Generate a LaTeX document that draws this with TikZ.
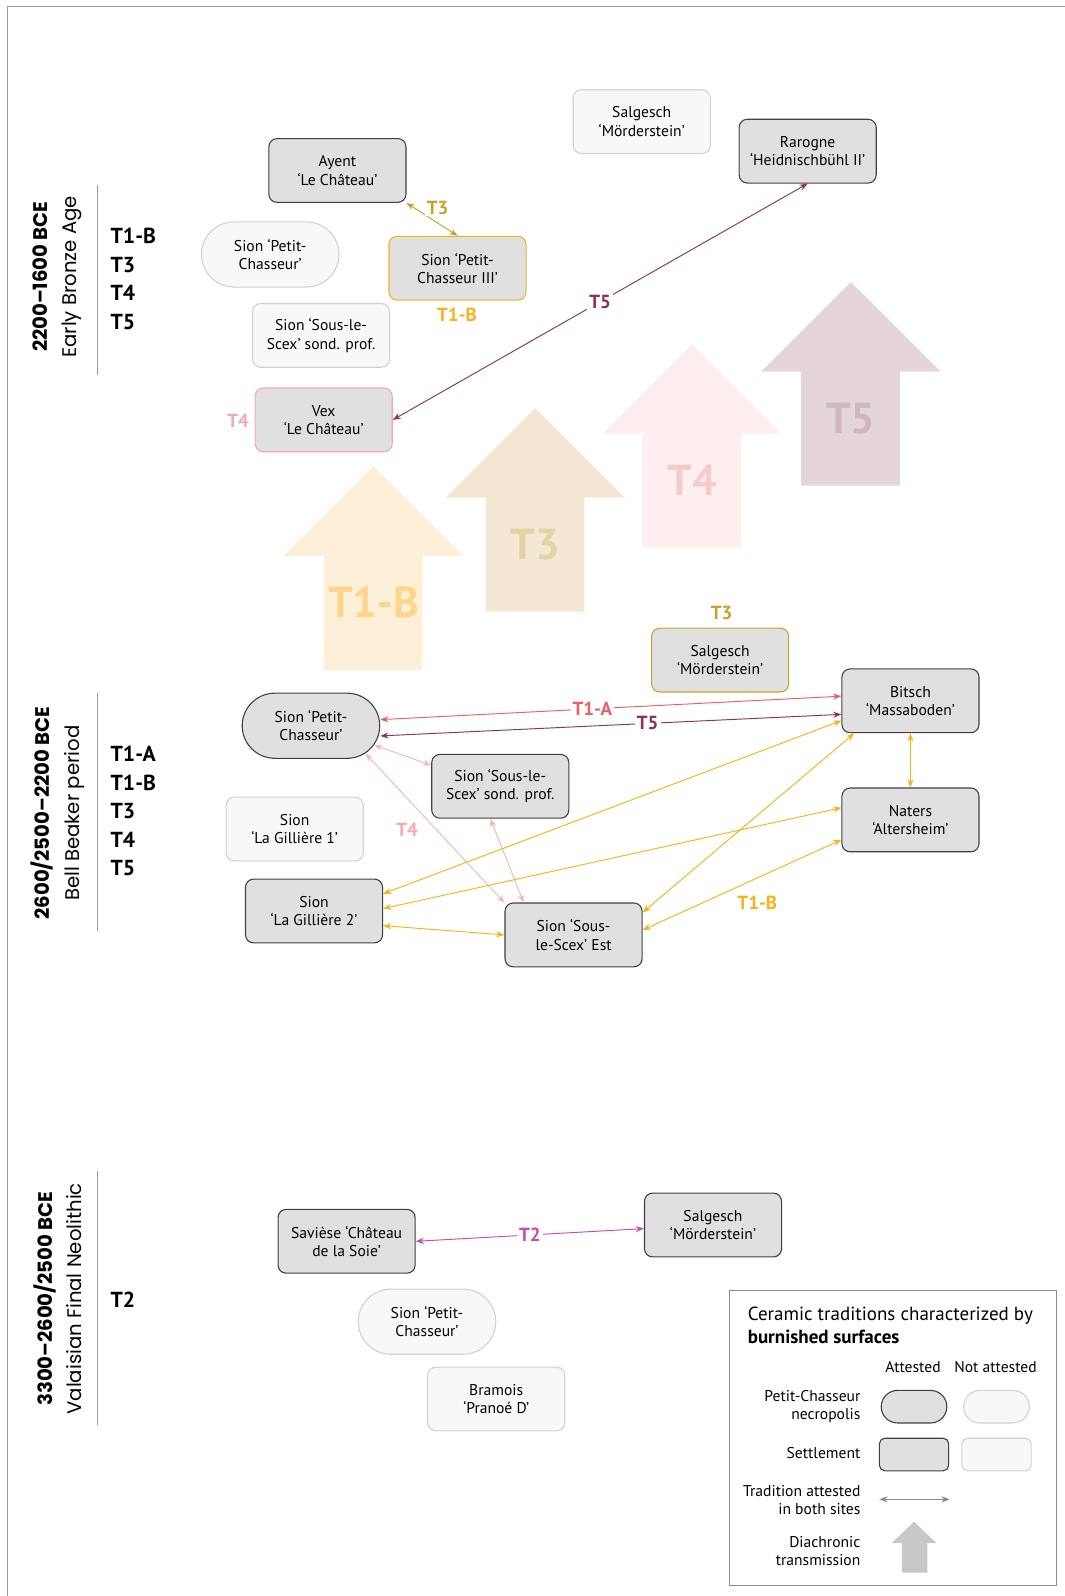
\documentclass[tikz,border=0pt]{standalone}
\usepackage{fontspec}
\setmainfont{PT Sans}
\newfontfamily\periodfont{Poppins}
\usepackage{tikz}
\usetikzlibrary{shapes.misc, arrows.meta}

\definecolor{sitegrey}{HTML}{E0E0E0}
\definecolor{edgegrey}{HTML}{404040}
\definecolor{nogrey}{HTML}{F8F8F8}
\definecolor{noedge}{HTML}{D2D2D2}
\definecolor{framegrey}{HTML}{9A9A9A}
\definecolor{t1acol}{HTML}{EC5F67}
\definecolor{t1bcol}{HTML}{F8B31B}
\definecolor{t2col}{HTML}{C94DA8}
\definecolor{t3col}{HTML}{C9A22C}
\definecolor{t4col}{HTML}{F4AAB0}
\definecolor{t4line}{HTML}{F5B7B9}
\definecolor{t5col}{HTML}{8B3459}
\definecolor{bigt1b}{HTML}{FEEFD8}
\definecolor{bigt1btext}{HTML}{FDD68C}
\definecolor{bigt3}{HTML}{F2E8D3}
\definecolor{bigt3text}{HTML}{E5D3A6}
\definecolor{bigt4}{HTML}{FDEEEF}
\definecolor{bigt4text}{HTML}{F7CBCD}
\definecolor{bigt5}{HTML}{E4D4DB}
\definecolor{bigt5text}{HTML}{D0B5C2}
\definecolor{leggrey}{HTML}{8A8A8A}
\definecolor{legarrow}{HTML}{C8C8C8}

\begin{document}
\begin{tikzpicture}[x=0.75pt, y=-0.75pt, every node/.style={font=\fontsize{11.5}{13.5}\selectfont}]
% Styles
\tikzstyle{site} = [rectangle, rounded corners=6pt, minimum width=101pt, minimum height=47pt, text centered, align=center, draw=edgegrey, fill=sitegrey, line width=0.8pt]
\tikzstyle{siteno} = [site, draw=noedge, fill=nogrey]
\tikzstyle{necro} = [rounded rectangle, minimum width=108pt, minimum height=48pt, text centered, align=center, draw=edgegrey, fill=sitegrey, line width=0.8pt]
\tikzstyle{necrono} = [necro, draw=noedge, fill=nogrey]
\tikzstyle{link} = [line width=0.7pt, <->, >={Stealth[length=6pt, width=4.5pt]}]
\tikzstyle{tlabel} = [font=\bfseries\fontsize{14}{16}\selectfont, fill=white, inner sep=1.5pt]
\tikzstyle{period} = [rotate=90, align=center, font=\periodfont\fontsize{14.5}{21.75}\selectfont]
\tikzstyle{tradlist} = [anchor=west, align=left, font=\bfseries\fontsize{16}{21}\selectfont]

\useasboundingbox (0,0) rectangle (1046,1568);
\draw[framegrey, line width=0.8pt] (1046,6) -- (7,6) -- (7,1568);

% Diachronic transmission arrows
\foreach \x/\y/\fc/\tc/\lab in {367/458/bigt1b/bigt1btext/T1-B, 526/401/bigt3/bigt3text/T3, 680/338/bigt4/bigt4text/T4, 836/277/bigt5/bigt5text/T5} {
  \fill[\fc] (\x,\y) -- ++(88,88) -- ++(-40,0) -- ++(0,112) -- ++(-97,0) -- ++(0,-112) -- ++(-39,0) -- cycle;
  \node[text=\tc, font=\bfseries\fontsize{32}{32}\selectfont] (big\lab) at (\x,\y+134) {\lab};
}

% Periods
\node[period] (ebaname) at (56.5,272) {\textbf{2200–1600 BCE}\\Early Bronze Age};
\node[period] (bbname) at (56.5,799) {\textbf{2600/2500–2200 BCE}\\Bell Beaker period};
\node[period] (neoname) at (56.5,1276) {\textbf{3300–2600/2500 BCE}\\Valaisian Final Neolithic};
\draw[framegrey] (96,182) -- (96,368);
\draw[framegrey] (96,681) -- (96,915);
\draw[framegrey] (96,1150) -- (96,1400);
\node[tradlist] (ebalist) at (104,274) {T1-B\\T3\\T4\\T5};
\node[tradlist] (bblist) at (104,797) {T1-A\\T1-B\\T3\\T4\\T5};
\node[tradlist] (neolist) at (104,1277) {T2};

% Early Bronze Age sites
\node (ayent) [site] at (331.5,167.5) {Ayent\\‘Le Château’};
\node (salgtop) [siteno] at (630.5,119.5) {Salgesch\\‘Mörderstein’};
\node (rarogne) [site] at (793.5,148.5) {Rarogne\\‘Heidnischbühl II’};
\node (pctop) [necrono] at (265.5,250) {Sion ‘Petit-\\Chasseur’};
\node (pcthree) [site, draw=t1bcol] at (449.5,263.5) {Sion ‘Petit-\\Chasseur III’};
\node (sondtop) [siteno] at (315.5,329.5) {Sion ‘Sous-le-\\Scex’ sond. prof.};
\node (vex) [site, draw=t4col] at (318,412.5) {Vex\\‘Le Château’};

% Bell Beaker sites
\node (salgmid) [site, draw=t3col] at (707.5,648.5) {Salgesch\\‘Mörderstein’};
\node (bitsch) [site] at (894.5,688.5) {Bitsch\\‘Massaboden’};
\node (naters) [site] at (894.5,805.5) {Naters\\‘Altersheim’};
\node (pcmid) [necro] at (305.5,713) {Sion ‘Petit-\\Chasseur’};
\node (sondmid) [site] at (491.5,772.5) {Sion ‘Sous-le-\\Scex’ sond. prof.};
\node (gillone) [siteno] at (289.5,814.5) {Sion\\‘La Gillière 1’};
\node (gilltwo) [site] at (308.5,895) {Sion\\‘La Gillière 2’};
\node (estmid) [site] at (563.5,918.5) {Sion ‘Sous-\\le-Scex’ Est};

% Final Neolithic sites
\node (saviese) [site] at (340.5,1219.5) {Savièse ‘Château\\de la Soie’};
\node (salgbot) [site] at (700.5,1203.5) {Salgesch\\‘Mörderstein’};
\node (pcbot) [necrono] at (419.5,1298.5) {Sion ‘Petit-\\Chasseur’};
\node (bramois) [siteno] at (487.5,1374.5) {Bramois\\‘Pranoé D’};

% Arrows
\draw [link, draw=t3col] (ayent.south east) -- (pcthree.north);
\node (lblthree) [tlabel, text=t3col] at (430,204) {T3};
\node (lbloneb) [tlabel, text=t1bcol] at (449,309) {T1-B};
\node (lblfour) [tlabel, text=t4col] at (234,413) {T4};
\draw [link, draw=t5col] (rarogne.south) -- node[tlabel, text=t5col] {T5} (vex.east);

\node (lblthreemid) [tlabel, text=t3col] at (709,602) {T3};
\draw [link, draw=t1acol] ([yshift=4.5pt]pcmid.east) -- node[tlabel, text=t1acol, pos=0.46] {T1-A} ([yshift=3.4pt]bitsch.west);
\draw [link, draw=t5col] ([yshift=-7.5pt]pcmid.east) -- node[tlabel, text=t5col, pos=0.58] {T5} ([yshift=-10pt]bitsch.west);
\draw [link, draw=t4line] (pcmid.343) -- (sondmid.163);
\draw [link, draw=t4line] (pcmid.333) -- (estmid.155);
\draw [link, draw=t4line] (sondmid.253) -- (estmid.147);
\node (lblfourmid) [tlabel, text=t4col] at (400,815) {T4};
\draw [link, draw=t1bcol] (bitsch.south) -- (naters.north);
\draw [link, draw=t1bcol] (bitsch.196) -- (gilltwo.14);
\draw [link, draw=t1bcol] (naters.170) -- (gilltwo.2);
\draw [link, draw=t1bcol] (gilltwo.348) -- (estmid.180);
\draw [link, draw=t1bcol] (bitsch.210) -- (estmid.18);
\draw [link, draw=t1bcol] (naters.196) -- (estmid.4);
\node (lblonebmid) [tlabel, text=t1bcol] at (744,887) {T1-B};

\draw [link, draw=t2col] (saviese.east) -- node[tlabel, text=t2col] {T2} (salgbot.183);

% Legend
\draw[leggrey, line width=0.6pt] (717,1268) rectangle (1038,1558);
\node (legtitle) [anchor=north west, align=left, font=\fontsize{14}{17.25}\selectfont] at (730,1279) {Ceramic traditions characterized by\\\textbf{burnished surfaces}};
\node (legatt) at (897,1343) {Attested};
\node (legnot) at (978,1343) {Not attested};
\node (legnecro) [anchor=east, align=right] at (850,1382) {Petit-Chasseur\\necropolis};
\node (legsettle) [anchor=east] at (850,1428) {Settlement};
\node (legtrad) [anchor=east, align=right] at (850,1474) {Tradition attested\\in both sites};
\node (legdia) [anchor=east, align=right] at (850,1524) {Diachronic\\transmission};
\node (legnecroa) [necro, minimum width=55pt, minimum height=24pt] at (898,1382) {};
\node (legnecron) [necrono, minimum width=55pt, minimum height=24pt] at (979,1382) {};
\node (legsitea) [site, rounded corners=4pt, minimum width=51pt, minimum height=24pt] at (898,1429) {};
\node (legsiten) [siteno, rounded corners=4pt, minimum width=51pt, minimum height=24pt] at (979,1429) {};
\coordinate (legl) at (864,1473);
\coordinate (legr) at (933,1473);
\draw [link, draw=leggrey] (legl) -- (legr);
\fill[legarrow] (898,1495) -- ++(22,21) -- ++(-9,0) -- ++(0,29) -- ++(-25,0) -- ++(0,-29) -- ++(-10,0) -- cycle;
\end{tikzpicture}
\end{document}
